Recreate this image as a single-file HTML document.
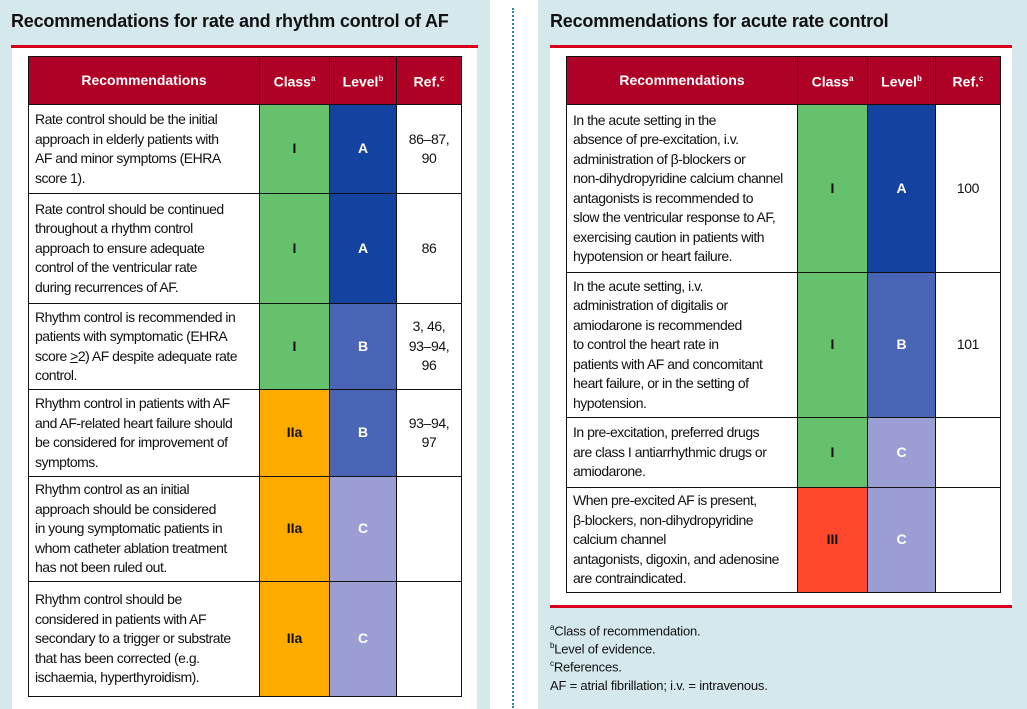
<!DOCTYPE html>
<html><head><meta charset="utf-8"><style>
*{margin:0;padding:0;box-sizing:border-box}
body{width:1027px;height:709px;background:#fff;position:relative;overflow:hidden;font-family:"Liberation Sans",sans-serif;color:#111}
.panel{position:absolute;top:0;height:709px;background:#d5e9ec}
.white{position:absolute;background:#fff}
.title{position:absolute;font-weight:bold;font-size:18px;color:#111;white-space:nowrap;letter-spacing:-0.2px}
.red{position:absolute;height:3px;background:#d8001c}
.dots{position:absolute;left:512px;top:8px;height:700px;border-left:2px dotted #2a8a94}
table{position:absolute;border-collapse:collapse;table-layout:fixed}
td,th{border:1.5px solid #111;font-size:14px;line-height:19.5px;vertical-align:middle}
th{background:#af0026;color:#fff;font-weight:bold;text-align:center;height:48px;font-size:14px}
th sup{font-size:8px}
td.t{padding:0 6px;white-space:nowrap;letter-spacing:-0.5px;background:#fff}
td.c{text-align:center;font-weight:bold}
td.r{text-align:center;background:#fff;white-space:nowrap;letter-spacing:-0.4px}
.g{background:#66c16c}.o{background:#ffab00}.rr{background:#ff482c}
.A{background:#1342a0;color:#fff}.B{background:#4a64b6;color:#fff}.C{background:#9a9ed3;color:#fff}
.fn{position:absolute;left:550px;font-size:13px;color:#111;letter-spacing:-0.2px}
.fn sup{font-size:8px}
</style></head><body>
<div class="panel" style="left:0;width:490px"></div>
<div class="panel" style="left:538px;width:489px"></div>
<div class="white" style="left:12px;top:48px;width:465px;height:661px"></div>
<div class="white" style="left:550px;top:48px;width:462px;height:558px"></div>
<div class="title" style="left:11px;top:11px">Recommendations for rate and rhythm control of AF</div>
<div class="title" style="left:550px;top:11px">Recommendations for acute rate control</div>
<div class="red" style="left:11px;top:45px;width:467px"></div>
<div class="red" style="left:550px;top:45px;width:462px"></div>
<div class="red" style="left:550px;top:605px;width:462px"></div>
<div class="dots"></div>

<table style="left:28px;top:56px;width:433px">
<colgroup><col style="width:231px"><col style="width:70px"><col style="width:67px"><col style="width:65px"></colgroup>
<tr><th>Recommendations</th><th>Class<sup>a</sup></th><th>Level<sup>b</sup></th><th>Ref.<sup>c</sup></th></tr>
<tr style="height:89px"><td class="t">Rate control should be the initial<br>approach in elderly patients with<br>AF and minor symptoms (EHRA<br>score 1).</td><td class="c g">I</td><td class="c A">A</td><td class="r">86–87,<br>90</td></tr>
<tr style="height:110px"><td class="t">Rate control should be continued<br>throughout a rhythm control<br>approach to ensure adequate<br>control of the ventricular rate<br>during recurrences of AF.</td><td class="c g">I</td><td class="c A">A</td><td class="r">86</td></tr>
<tr style="height:86px"><td class="t">Rhythm control is recommended in<br>patients with symptomatic (EHRA<br>score <u>&gt;</u>2) AF despite adequate rate<br>control.</td><td class="c g">I</td><td class="c B">B</td><td class="r">3, 46,<br>93–94,<br>96</td></tr>
<tr style="height:87px"><td class="t">Rhythm control in patients with AF<br>and AF-related heart failure should<br>be considered for improvement of<br>symptoms.</td><td class="c o">IIa</td><td class="c B">B</td><td class="r">93–94,<br>97</td></tr>
<tr style="height:105px"><td class="t">Rhythm control as an initial<br>approach should be considered<br>in young symptomatic patients in<br>whom catheter ablation treatment<br>has not been ruled out.</td><td class="c o">IIa</td><td class="c C">C</td><td class="r"></td></tr>
<tr style="height:115px"><td class="t">Rhythm control should be<br>considered in patients with AF<br>secondary to a trigger or substrate<br>that has been corrected (e.g.<br>ischaemia, hyperthyroidism).</td><td class="c o">IIa</td><td class="c C">C</td><td class="r"></td></tr>
</table>

<table style="left:566px;top:56px;width:434px">
<colgroup><col style="width:231px"><col style="width:70px"><col style="width:68px"><col style="width:65px"></colgroup>
<tr><th>Recommendations</th><th>Class<sup>a</sup></th><th>Level<sup>b</sup></th><th>Ref.<sup>c</sup></th></tr>
<tr style="height:168px"><td class="t">In the acute setting in the<br>absence of pre-excitation, i.v.<br>administration of β-blockers or<br>non-dihydropyridine calcium channel<br>antagonists is recommended to<br>slow the ventricular response to AF,<br>exercising caution in patients with<br>hypotension or heart failure.</td><td class="c g">I</td><td class="c A">A</td><td class="r">100</td></tr>
<tr style="height:145px"><td class="t">In the acute setting, i.v.<br>administration of digitalis or<br>amiodarone is recommended<br>to control the heart rate in<br>patients with AF and concomitant<br>heart failure, or in the setting of<br>hypotension.</td><td class="c g">I</td><td class="c B">B</td><td class="r">101</td></tr>
<tr style="height:70px"><td class="t">In pre-excitation, preferred drugs<br>are class I antiarrhythmic drugs or<br>amiodarone.</td><td class="c g">I</td><td class="c C">C</td><td class="r"></td></tr>
<tr style="height:105px"><td class="t">When pre-excited AF is present,<br>β-blockers, non-dihydropyridine<br>calcium channel<br>antagonists, digoxin, and adenosine<br>are contraindicated.</td><td class="c rr">III</td><td class="c C">C</td><td class="r"></td></tr>
</table>

<div class="fn" style="top:623px"><sup>a</sup>Class of recommendation.</div>
<div class="fn" style="top:641px"><sup>b</sup>Level of evidence.</div>
<div class="fn" style="top:659px"><sup>c</sup>References.</div>
<div class="fn" style="top:678px">AF = atrial fibrillation; i.v. = intravenous.</div>
</body></html>
